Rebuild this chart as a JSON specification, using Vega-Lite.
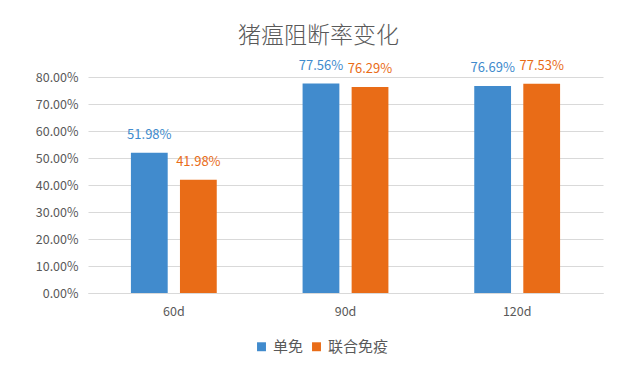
{
  "$schema": "https://vega.github.io/schema/vega-lite/v6.json",
  "width": 515,
  "height": 216,
  "autosize": "none",
  "padding": {"left": 88, "top": 77, "right": 34, "bottom": 90},
  "background": "white",
  "config": {
    "font": "Noto Sans CJK SC",
    "view": {"stroke": null},
    "axis": {"labelColor": "#595959", "labelFont": "Noto Sans CJK SC", "labelFontSize": 12.5, "ticks": false, "title": null}
  },
  "title": {
    "text": "猪瘟阻断率变化",
    "font": "Noto Sans CJK SC",
    "fontSize": 23,
    "fontWeight": 300,
    "color": "#595959",
    "anchor": "middle",
    "dx": -27,
    "offset": 12
  },
  "data": {
    "values": [
      {"day": "60d", "group": "单免", "rate": 0.5198},
      {"day": "60d", "group": "联合免疫", "rate": 0.4198},
      {"day": "90d", "group": "单免", "rate": 0.7756},
      {"day": "90d", "group": "联合免疫", "rate": 0.7629},
      {"day": "120d", "group": "单免", "rate": 0.7669},
      {"day": "120d", "group": "联合免疫", "rate": 0.7753}
    ]
  },
  "encoding": {
    "x": {
      "field": "day", "type": "nominal", "sort": ["60d", "90d", "120d"],
      "scale": {"paddingInner": 0.5, "paddingOuter": 0.25},
      "axis": {"labelAngle": 0, "domainColor": "#d9d9d9", "labelPadding": 12, "grid": false}
    },
    "xOffset": {"field": "group", "type": "nominal", "sort": ["单免", "联合免疫"], "scale": {"paddingInner": 0.25, "paddingOuter": 0}},
    "y": {
      "field": "rate", "type": "quantitative",
      "scale": {"domain": [0, 0.8], "nice": false},
      "axis": {"format": ".2%", "values": [0, 0.1, 0.2, 0.3, 0.4, 0.5, 0.6, 0.7, 0.8], "labelOverlap": false, "domain": false, "gridColor": "#d9d9d9", "labelPadding": 10}
    },
    "color": {
      "field": "group", "type": "nominal", "sort": ["单免", "联合免疫"],
      "scale": {"range": ["#418bcd", "#e96c17"]},
      "legend": {
        "title": null, "orient": "none", "direction": "horizontal",
        "legendX": 166, "legendY": 262,
        "symbolType": "square", "symbolSize": 80, "symbolStrokeWidth": 0, "symbolOpacity": 1,
        "labelFont": "Noto Sans CJK SC", "labelFontSize": 15, "labelColor": "#595959",
        "columnPadding": 5, "labelOffset": 4
      }
    }
  },
  "layer": [
    {"mark": {"type": "bar"}},
    {
      "mark": {"type": "text", "baseline": "bottom", "dy": -11, "fontSize": 13, "font": "Noto Sans CJK SC"},
      "encoding": {"text": {"field": "rate", "type": "quantitative", "format": ".2%"}}
    }
  ]
}
